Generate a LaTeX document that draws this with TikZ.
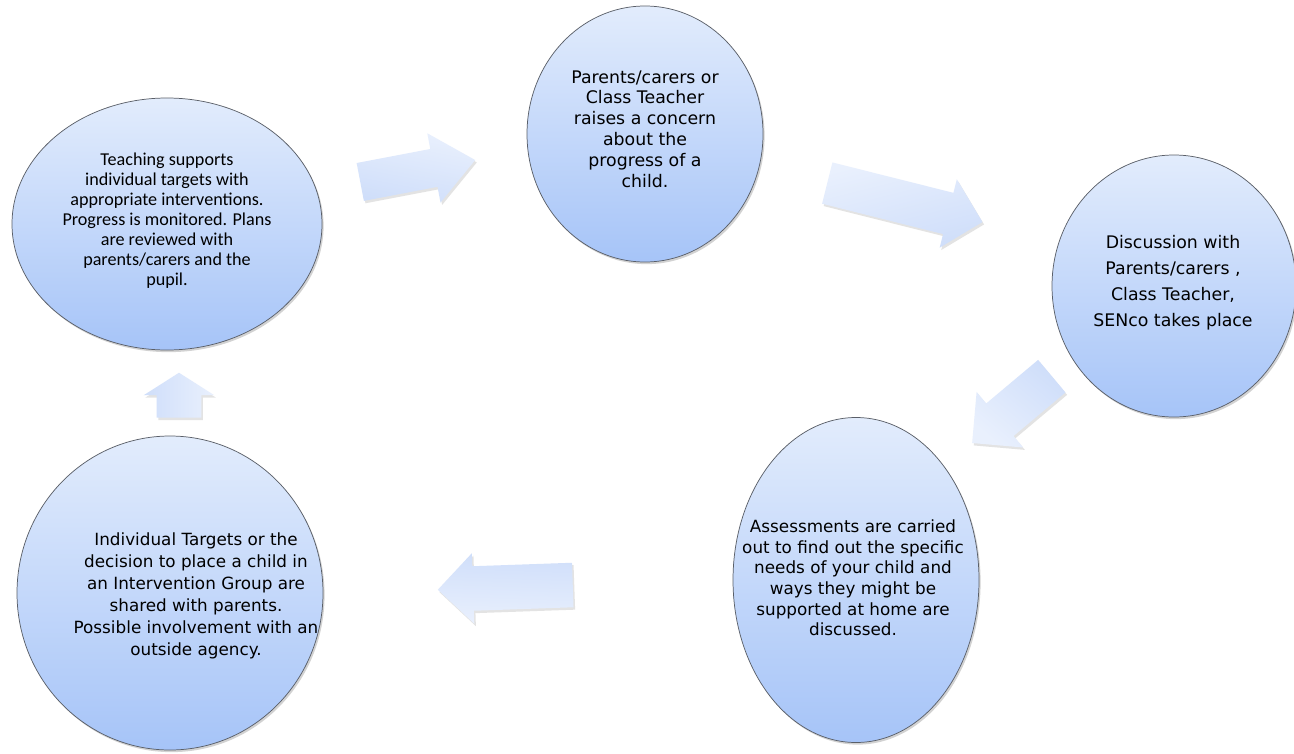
\documentclass[tikz,border=0pt]{standalone}
\usepackage{fontspec}
\setmainfont{DejaVu Sans}
\newfontfamily\calib{Carlito}
\newfontfamily\comic{DejaVu Sans}
\usetikzlibrary{shapes.geometric,shapes.arrows,shadows}
\definecolor{bubtop}{HTML}{E2ECFC}
\definecolor{bubbot}{HTML}{A6C4F8}
\definecolor{arrtop}{HTML}{E9F0FD}
\definecolor{arrbot}{HTML}{CFDEFA}
\definecolor{rim}{HTML}{5A5F68}
\newcommand{\pxu}{0.75pt}
\begin{document}
\begin{tikzpicture}[x=0.75pt,y=-0.75pt,
  bubble/.style={ellipse, draw=rim, line width=0.55pt, top color=bubtop, bottom color=bubbot,
    inner sep=0pt, drop shadow={opacity=0.35, shadow xshift=1.2pt, shadow yshift=-1.6pt}},
  blockarrow/.style={single arrow, draw=none, inner xsep=0pt, inner ysep=21*\pxu,
    single arrow tip angle=90, anchor=tail,
    drop shadow={opacity=0.22, shadow xshift=1.2pt, shadow yshift=-1.8pt}},
  label/.style={align=center, inner sep=0pt, text=black}]
\useasboundingbox[fill=white] (0,0) rectangle (1294,753);

% bubbles
\node[bubble, minimum width=310*\pxu, minimum height=252*\pxu] (c1) at (167,224) {};
\node[bubble, minimum width=236*\pxu, minimum height=256*\pxu] (c2) at (645,134) {};
\node[bubble, minimum width=244*\pxu, minimum height=262*\pxu] (c3) at (1174,286) {};
\node[bubble, minimum width=246*\pxu, minimum height=325*\pxu] (c4) at (856,580) {};
\node[bubble, minimum width=306*\pxu, minimum height=314*\pxu] (c5) at (170,593) {};

% texts
\node[label, font=\calib\fontsize{13.6}{15}\selectfont] (t1) at (167,221)
  {Teaching supports\\individual targets with\\appropriate interventions.\\Progress is monitored. Plans\\are reviewed with\\parents/carers and the\\pupil.};
\node[label, font=\comic\fontsize{13}{15.6}\selectfont] (t2) at (645,129)
  {Parents/carers or\\Class Teacher\\raises a concern\\about the\\progress of a\\child.};
\node[label, font=\comic\fontsize{13}{19.4}\selectfont] (t3) at (1173,283)
  {Discussion with\\Parents/carers ,\\Class Teacher,\\SENco takes place};
\node[label, font=\comic\fontsize{12.6}{15.5}\selectfont] (t4) at (853,578)
  {Assessments are carried\\out to find out the specific\\needs of your child and\\ways they might be\\supported at home are\\discussed.};
\node[label, font=\comic\fontsize{12.6}{16.5}\selectfont] (t5) at (196,596)
  {Individual Targets or the\\decision to place a child in\\an Intervention Group are\\shared with parents.\\Possible involvement with an\\outside agency.};

% block arrows (placed by their tails)
\node[blockarrow, rotate=10.8, minimum height=117*\pxu, inner ysep=19*\pxu,
  single arrow head extend=16*\pxu, single arrow tip angle=80,
  top color=arrtop, bottom color=arrbot, shading angle=-10.8] (a1) at (360,182) {};
\node[blockarrow, rotate=-14.1, minimum height=160*\pxu, inner ysep=21*\pxu,
  single arrow head extend=14*\pxu,
  top color=arrtop, bottom color=arrbot, shading angle=14.1] (a2) at (827,183) {};
\node[blockarrow, rotate=220, minimum height=104*\pxu, inner ysep=21*\pxu,
  single arrow head extend=15*\pxu,
  top color=arrtop, bottom color=arrbot, shading angle=-220] (a3) at (1052,376) {};
\node[blockarrow, rotate=182, minimum height=135*\pxu, inner ysep=22*\pxu,
  single arrow head extend=13*\pxu,
  top color=arrtop, bottom color=arrbot, shading angle=-182] (a4) at (573,585) {};
\node[blockarrow, rotate=90, minimum height=45*\pxu, inner ysep=22*\pxu,
  single arrow head extend=13*\pxu, single arrow tip angle=115,
  top color=arrtop, bottom color=arrbot, shading angle=-90] (a5) at (179,418) {};
\end{tikzpicture}
\end{document}
